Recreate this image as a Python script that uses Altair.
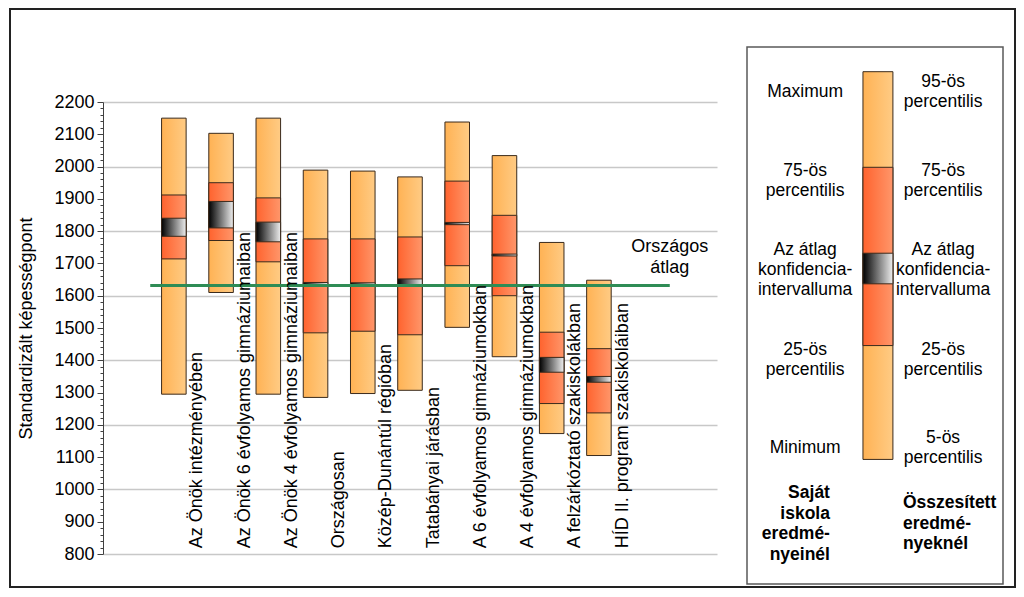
import altair as alt
import pandas as pd

# ---------------- data ----------------
categories = [
    "Az Önök intézményében",
    "Az Önök 6 évfolyamos gimnáziumaiban",
    "Az Önök 4 évfolyamos gimnáziumaiban",
    "Országosan",
    "Közép-Dunántúl régióban",
    "Tatabányai járásban",
    "A 6 évfolyamos gimnáziumokban",
    "A 4 évfolyamos gimnáziumokban",
    "A felzárkóztató szakiskolákban",
    "HÍD II. program szakiskoláiban",
]
p_low = [1295, 1610, 1295, 1285, 1297, 1307, 1502, 1411, 1173, 1105]
q25 = [1714, 1771, 1705, 1485, 1490, 1479, 1693, 1600, 1266, 1237]
ci_lo = [1784, 1810, 1767, 1633, 1634, 1634, 1820, 1723, 1363, 1332]
ci_hi = [1840, 1892, 1828, 1641, 1640, 1652, 1827, 1729, 1409, 1350]
q75 = [1912, 1950, 1903, 1776, 1776, 1782, 1955, 1849, 1487, 1436]
p_high = [2150, 2103, 2150, 1989, 1986, 1968, 2138, 2034, 1765, 1648]

national_average = 1632
national_label = "Országos\nátlag"

y_ticks = list(range(800, 2201, 20))

legend_left = ["Maximum", "75-ös\npercentilis", "Az átlag\nkonfidencia-\nintervalluma",
               "25-ös\npercentilis", "Minimum"]
legend_right = ["95-ös\npercentilis", "75-ös\npercentilis", "Az átlag\nkonfidencia-\nintervalluma",
                "25-ös\npercentilis", "5-ös\npercentilis"]
legend_left_bold = "Saját\niskola\neredmé-\nnyeinél"
legend_right_bold = "Összesített\neredmé-\nnyeknél"
# legend sample bar (legend units 0..100)
legend_bar = {"p_low": 23.2, "q25": 44.4, "ci_lo": 55.9, "ci_hi": 61.6, "q75": 77.6, "p_high": 95.4}

# ---------------- style ----------------
FONT = "Liberation Sans"
FS = 18
LEG_FS = 17.5
EDGE = "#3a2a1c"
ORANGE = ("#FFB254", "#FFCB84")
RED = ("#FF632E", "#FF966A")
CI = ("#000000", "#EEEEEE")
GREEN = "#2F8C55"
BOX_HALF = 0.26
LABEL_BASE = 818
AVG_LABEL_OFFSET = 119
N_SLOTS = 13
LEG_PX_PER_UNIT = 5.37


def grad(c):
    return {"gradient": "linear", "x1": 0, "x2": 1, "y1": 0, "y2": 0,
            "stops": [{"offset": 0, "color": c[0]}, {"offset": 1, "color": c[1]}]}


df = pd.DataFrame({
    "category": categories, "p_low": p_low, "q25": q25, "ci_lo": ci_lo,
    "ci_hi": ci_hi, "q75": q75, "p_high": p_high,
})
df["slot"] = range(1, len(df) + 1)
df["x0"] = df["slot"] + 0.5 - BOX_HALF
df["x1"] = df["slot"] + 0.5 + BOX_HALF
df["label_x"] = df["slot"] + 1.0
df["label_y"] = LABEL_BASE

avg_df = pd.DataFrame({
    "x": [1], "x2": [len(categories) + 2], "y": [national_average],
    "label": [national_label], "label_x": [len(categories) + 2],
    "label_y": [national_average + AVG_LABEL_OFFSET],
})

xscale = alt.Scale(domain=[0, N_SLOTS], nice=False, zero=False)
yscale = alt.Scale(domain=[800, 2200], nice=False, zero=False)
yaxis = alt.Axis(
    values=y_ticks, format="d",
    labelExpr="datum.value % 100 === 0 ? datum.label : ''",
    labelOverlap=False,
    tickSize={"condition": {"test": "datum.value % 100 === 0", "value": 6}, "value": 3},
    gridOpacity={"condition": {"test": "datum.value % 200 === 0", "value": 1}, "value": 0},
    grid=True, gridColor="#C8C8C8", gridWidth=1.5,
    domainColor="#404040", tickColor="#404040",
    title="Standardizált képességpont", titlePadding=18, labelPadding=3,
    labelFontSize=FS, titleFontSize=FS, titleFontWeight="normal",
    labelColor="black", titleColor="black", labelFont=FONT, titleFont=FONT,
)

base = alt.Chart(df)


def box_layer(lo, hi, colors):
    return base.mark_rect(fill=grad(colors), stroke=EDGE, strokeWidth=1).encode(
        x=alt.X("x0:Q", scale=xscale, axis=None), x2="x1:Q",
        y=alt.Y(f"{lo}:Q", scale=yscale, axis=yaxis), y2=f"{hi}:Q",
    )


orange = box_layer("p_low", "p_high", ORANGE)
red = box_layer("q25", "q75", RED)
ci = box_layer("ci_lo", "ci_hi", CI)

avg_line = alt.Chart(avg_df).mark_rule(color=GREEN, strokeWidth=3).encode(
    x=alt.X("x:Q", scale=xscale, axis=None), x2="x2:Q",
    y=alt.Y("y:Q", scale=yscale, axis=yaxis),
)
avg_text = alt.Chart(avg_df).mark_text(
    font=FONT, fontSize=FS, lineBreak="\n", lineHeight=21, align="center",
    baseline="middle", color="black",
).encode(
    x=alt.X("label_x:Q", scale=xscale, axis=None),
    y=alt.Y("label_y:Q", scale=yscale, axis=yaxis), text="label:N",
)
cat_labels = base.mark_text(
    font=FONT, fontSize=FS, angle=270, align="left", baseline="middle", color="black",
).encode(
    x=alt.X("label_x:Q", scale=xscale, axis=None),
    y=alt.Y("label_y:Q", scale=yscale, axis=yaxis), text="category:N",
)

main = alt.layer(orange, red, ci, avg_line, avg_text, cat_labels)

# ---------------- legend panel ----------------
lx = alt.Scale(domain=[0, 100], range=[644, 900], nice=False, zero=False)
ly = alt.Scale(domain=[0, 100], range=[482, -55], nice=False, zero=False)

frame_df = pd.DataFrame({"x": [0], "x2": [100], "y": [0], "y2": [100]})
legend_frame = alt.Chart(frame_df).mark_rect(
    fill="white", stroke="#5a5a5a", strokeWidth=1.5
).encode(
    x=alt.X("x:Q", scale=lx, axis=None), x2="x2:Q",
    y=alt.Y("y:Q", scale=ly, axis=None), y2="y2:Q",
)

lb = pd.DataFrame([legend_bar])
lb["x0"] = 45.3
lb["x1"] = 57.0


def leg_box(lo, hi, colors):
    return alt.Chart(lb).mark_rect(fill=grad(colors), stroke=EDGE, strokeWidth=1).encode(
        x=alt.X("x0:Q", scale=lx, axis=None), x2="x1:Q",
        y=alt.Y(f"{lo}:Q", scale=ly, axis=None), y2=f"{hi}:Q",
    )


def first_line_y(texts, centers, lh):
    # Vega places the first line at the anchor: shift so the block is centred
    return [c + t.count("\n") * lh / 2 / LEG_PX_PER_UNIT for t, c in zip(texts, centers)]


rows = [91.7, 75.1, 58.5, 41.8, 25.4]
ltext = pd.DataFrame({"text": legend_left, "y": first_line_y(legend_left, rows, 20), "x": 22.7})
rtext = pd.DataFrame({"text": legend_right, "y": first_line_y(legend_right, rows, 20), "x": 76.6})
btext_l = pd.DataFrame({"text": [legend_left_bold],
                        "y": first_line_y([legend_left_bold], [11.2], 20.6), "x": [32.4]})
btext_r = pd.DataFrame({"text": [legend_right_bold],
                        "y": first_line_y([legend_right_bold], [11.2], 20.6), "x": [60.9]})


def leg_text(d, align, bold=False, lh=20):
    return alt.Chart(d).mark_text(
        font=FONT, fontSize=LEG_FS, lineBreak="\n", lineHeight=lh, align=align,
        baseline="middle", color="black", fontWeight="bold" if bold else "normal",
    ).encode(
        x=alt.X("x:Q", scale=lx, axis=None),
        y=alt.Y("y:Q", scale=ly, axis=None), text="text:N",
    )


figure_frame = alt.Chart(frame_df).mark_rect(
    fillOpacity=0, stroke="#222222", strokeWidth=2
).encode(
    x=alt.value(-93), x2=alt.value(912), y=alt.value(-93), y2=alt.value(485),
)

legend = alt.layer(
    legend_frame,
    leg_box("p_low", "p_high", ORANGE),
    leg_box("q25", "q75", RED),
    leg_box("ci_lo", "ci_hi", CI),
    leg_text(ltext, "center"),
    leg_text(rtext, "center"),
    leg_text(btext_l, "right", True, 20.6),
    leg_text(btext_r, "left", True, 20.6),
    figure_frame,
)

chart = alt.layer(main, legend).resolve_scale(
    x="independent", y="independent"
).properties(
    width=614, height=452,
    padding={"left": 95, "top": 94, "right": 299, "bottom": 34},
    autosize=alt.AutoSizeParams(type="none"),
).configure_view(strokeWidth=0).configure_text(font=FONT)

chart.save("out.html", embed_options={"renderer": "svg", "actions": False})
